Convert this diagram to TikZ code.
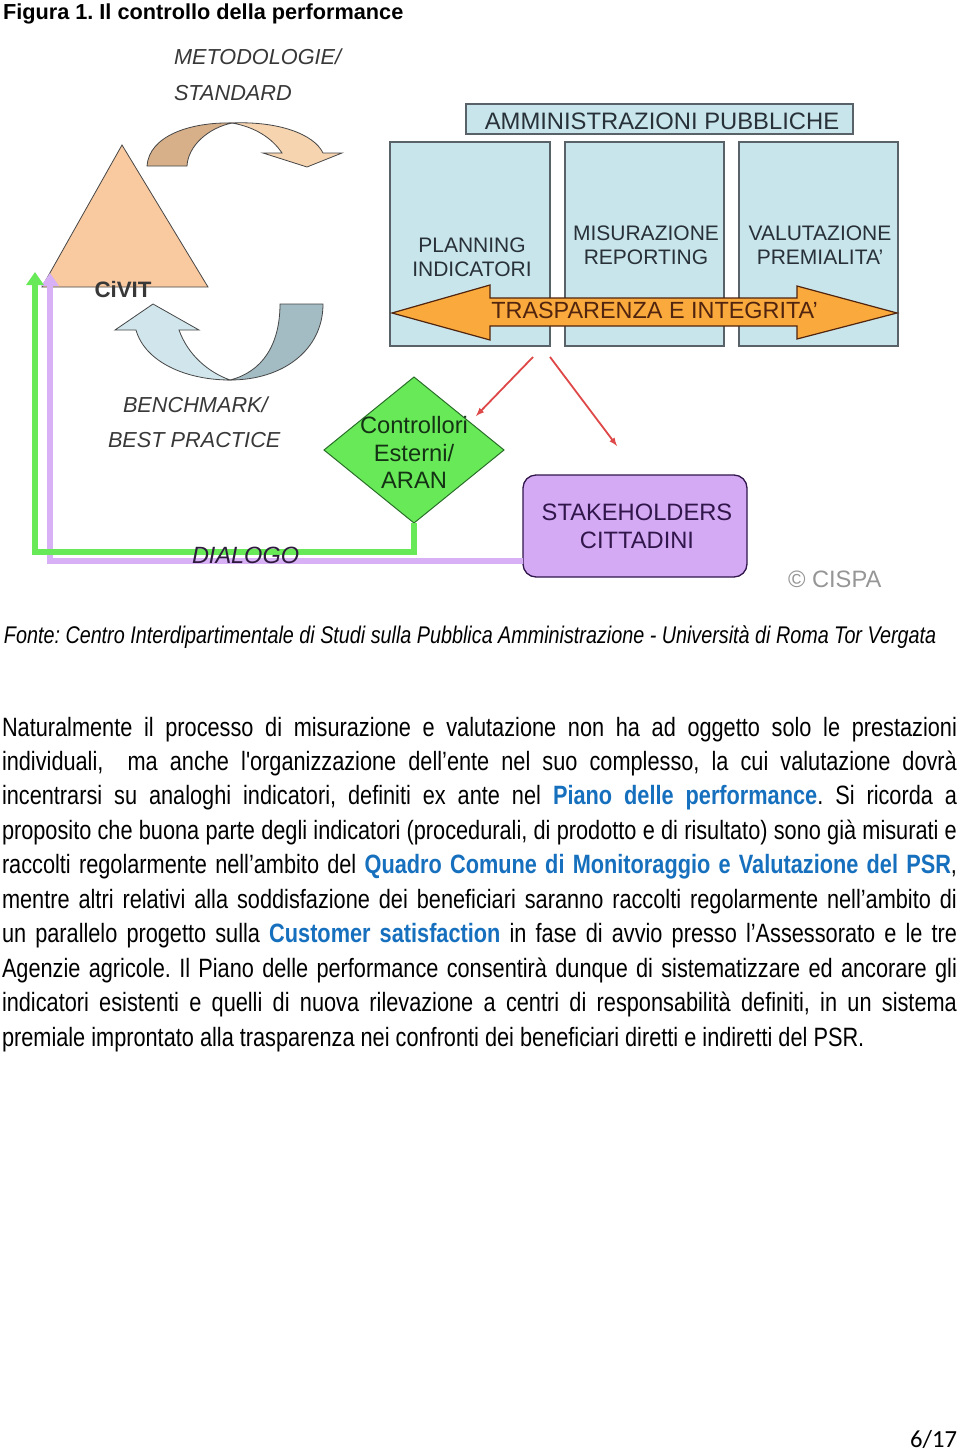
\documentclass[tikz,border=0pt]{standalone}
\usepackage{fontspec}
\setmainfont{Liberation Sans}
\newfontfamily\narrowfont[FakeStretch=0.82]{Liberation Sans}
\newfontfamily\calibrifont{Carlito}
\usetikzlibrary{shapes.geometric,arrows.meta}
\frenchspacing

\newcommand{\lnk}[1]{{\bfseries\color{ci_link}#1}}

\begin{document}
\begin{tikzpicture}[x=1pt,y=-1pt,
  every node/.style={inner sep=0pt,outer sep=0pt},
  panel/.style={draw=ci_edge,line width=1.3pt,fill=ci_panel},
  shape3d/.style={draw=ci_outline,line width=0.8pt},
  boxtext/.style={anchor=base,font=\fontsize{21}{24}\selectfont,text=ci_dark},
  bigtext/.style={anchor=base,font=\fontsize{23.7}{27}\selectfont},
  itlabel/.style={anchor=base west,font=\fontsize{21.7}{26}\selectfont\itshape,text=ci_text},
  bodyline/.style={anchor=base west,font=\narrowfont\fontsize{26.5}{34.45}\selectfont},
  greenlink/.style={draw=ci_green,line width=6pt,-{Triangle[width=17pt,length=13pt]}},
  lilaclink/.style={draw=ci_lilac,line width=6pt,-{Triangle[width=17pt,length=13pt]}},
  redlink/.style={draw=ci_red,line width=1.8pt,-latex}]
\definecolor{ci_peach}{RGB}{249,201,160}     %#F9C9A0
\definecolor{ci_tandark}{RGB}{215,176,138}   %#D7B08A
\definecolor{ci_tanlight}{RGB}{246,212,176}  %#F6D4B0
\definecolor{ci_bluelight}{RGB}{208,230,236} %#D0E6EC
\definecolor{ci_bluegray}{RGB}{163,187,195}  %#A3BBC3
\definecolor{ci_outline}{RGB}{70,70,70}
\definecolor{ci_panel}{RGB}{200,229,236}     %#C8E5EC
\definecolor{ci_edge}{RGB}{88,98,104}
\definecolor{ci_dark}{RGB}{40,48,56}
\definecolor{ci_orange}{RGB}{250,170,60}     %#FAAA3C
\definecolor{ci_brown}{RGB}{80,36,14}
\definecolor{ci_green}{RGB}{104,234,88}      %#68EA58
\definecolor{ci_darkgreen}{RGB}{40,110,40}
\definecolor{ci_greentext}{RGB}{20,50,20}
\definecolor{ci_lilac}{RGB}{215,176,245}     %#D7B0F5
\definecolor{ci_lilacbox}{RGB}{212,170,245}  %#D4AAF5
\definecolor{ci_plum}{RGB}{48,22,74}
\definecolor{ci_plumtext}{RGB}{45,25,60}
\definecolor{ci_red}{RGB}{222,72,72}
\definecolor{ci_link}{RGB}{22,112,190}       %#1670BE
\definecolor{ci_text}{RGB}{56,56,56}
\definecolor{ci_gray}{RGB}{150,150,150}

\useasboundingbox (0,0) rectangle (960,1451);
\fill [white] (0,0) rectangle (960,1451);

\node [anchor=base west,font=\fontsize{21.7}{26}\selectfont\bfseries] (title) at (3,19) {Figura 1. Il controllo della performance};

% CiVIT and the two curved arrows
\filldraw [fill=ci_peach,shape3d] (122,145) -- (42,287) -- (208,287) -- cycle;
\filldraw [fill=ci_tandark,shape3d] (147,166) .. controls (149,136) and (190,122) .. (232,123)
  .. controls (208,128) and (188,146) .. (187,166) -- cycle;
\filldraw [fill=ci_tanlight,shape3d] (232,123) .. controls (278,121) and (314,134) .. (323,153)
  -- (342,153) -- (307,167) -- (263,153) -- (282,153)
  .. controls (272,138) and (255,127) .. (232,123) -- cycle;
\filldraw [fill=ci_bluegray,shape3d] (280,304) -- (323,304) .. controls (323,350) and (283,380) .. (230,380)
  .. controls (262,372) and (280,345) .. (280,304) -- cycle;
\filldraw [fill=ci_bluelight,shape3d] (230,380) .. controls (186,380) and (145,362) .. (136,330)
  -- (115,330) -- (153,304) -- (199,330) -- (179,330)
  .. controls (188,355) and (208,372) .. (230,380) -- cycle;

\node [itlabel] (metod) at (174,64) {METODOLOGIE/};
\node [itlabel] (stand) at (174,100) {STANDARD};
\node [itlabel] (bench) at (123,412) {BENCHMARK/};
\node [itlabel] (bestp) at (108,447) {BEST PRACTICE};

% amministrazioni
\node [panel,minimum width=387pt,minimum height=30pt] (amm) at (659.5,119) {};
\node [anchor=base,font=\fontsize{23.8}{27}\selectfont,text=ci_dark] (ammtext) at (662,129) {AMMINISTRAZIONI PUBBLICHE};
\node [panel,minimum width=160pt,minimum height=204pt] (col1) at (470,244) {};
\node [panel,minimum width=159pt,minimum height=204pt] (col2) at (644.5,244) {};
\node [panel,minimum width=159pt,minimum height=204pt] (col3) at (818.5,244) {};
\node [boxtext] (plan) at (472,252) {PLANNING};
\node [boxtext] (indic) at (472,276) {INDICATORI};
\node [boxtext] (misur) at (646,240) {MISURAZIONE};
\node [boxtext] (report) at (646,264) {REPORTING};
\node [boxtext] (valut) at (820,240) {VALUTAZIONE};
\node [boxtext] (premi) at (820,264) {PREMIALITA'};

\filldraw [fill=ci_orange,draw=ci_brown,line width=1.2pt]
  (392,313) -- (490,285) -- (490,298) -- (797,298) -- (797,286) -- (897,313)
  -- (797,339) -- (797,326) -- (490,326) -- (490,340) -- cycle;
\node [anchor=base,font=\fontsize{23.4}{27}\selectfont,text=ci_brown] (trasp) at (654.5,318) {TRASPARENZA E INTEGRITA'};

% controllori, stakeholders
\node [diamond,draw=ci_darkgreen,line width=1pt,fill=ci_green,minimum width=180pt,minimum height=146pt] (aran) at (414,450) {};
\node [rounded corners=13pt,draw=ci_plum,line width=1.3pt,fill=ci_lilacbox,minimum width=224pt,minimum height=102pt] (stake) at (635,526) {};

\coordinate (redA) at (533,357);
\coordinate (redB) at (550,357);
\coordinate (redAend) at (476,416);
\coordinate (redBend) at (617,446);
\draw [redlink] (redA) -- (redAend);
\draw [redlink] (redB) -- (redBend);

\coordinate (civitA) at (35,272);
\coordinate (civitB) at (50,273);
\coordinate (gcorner) at (35,552);
\coordinate (stkin) at (523,561);
\draw [lilaclink] (stkin) -| (civitB);
\draw [greenlink] (aran.south) |- (gcorner) -- (civitA);

\node [anchor=base,font=\fontsize{22.3}{26}\selectfont\bfseries,text=ci_text] (civit) at (123,297) {CiVIT};
\node [itlabel,font=\fontsize{23.5}{27}\selectfont\itshape,text=ci_plumtext] (dialogo) at (192,563) {DIALOGO};
\node [bigtext,text=ci_greentext] (ctrl) at (414,433) {Controllori};
\node [bigtext,text=ci_greentext] (est) at (414,461) {Esterni/};
\node [bigtext,text=ci_greentext] (arantext) at (414,488) {ARAN};
\node [bigtext,text=ci_plum] (stk1) at (637,520) {STAKEHOLDERS};
\node [bigtext,text=ci_plum] (stk2) at (637,548) {CITTADINI};
\node [anchor=base west,font=\fontsize{23.7}{27}\selectfont,text=ci_gray] (cispa) at (788,587) {\textcopyright{} CISPA};

% testo
\node [anchor=base west,font=\narrowfont\fontsize{24.1}{28}\selectfont\itshape] (fonte) at (4,643) {Fonte: Centro Interdipartimentale di Studi sulla Pubblica Amministrazione - Università di Roma Tor Vergata};

\node [bodyline] (l1) at (2,736) {\makebox[955pt][s]{Naturalmente il processo di misurazione e valutazione non ha ad oggetto solo le prestazioni}};
\node [bodyline] (l2) at (2,770.45) {\makebox[955pt][s]{individuali,\ \ ma anche l'organizzazione dell’ente nel suo complesso, la cui valutazione dovrà}};
\node [bodyline] (l3) at (2,804.9) {\makebox[955pt][s]{incentrarsi su analoghi indicatori, definiti ex ante nel \lnk{Piano delle performance}. Si ricorda a}};
\node [bodyline] (l4) at (2,839.35) {\makebox[955pt][s]{proposito che buona parte degli indicatori (procedurali, di prodotto e di risultato) sono già misurati e}};
\node [bodyline] (l5) at (2,873.8) {\makebox[955pt][s]{raccolti regolarmente nell’ambito del \lnk{Quadro Comune di Monitoraggio e Valutazione del PSR},}};
\node [bodyline] (l6) at (2,908.25) {\makebox[955pt][s]{mentre altri relativi alla soddisfazione dei beneficiari saranno raccolti regolarmente nell’ambito di}};
\node [bodyline] (l7) at (2,942.7) {\makebox[955pt][s]{un parallelo progetto sulla \lnk{Customer satisfaction} in fase di avvio presso l’Assessorato e le tre}};
\node [bodyline] (l8) at (2,977.15) {\makebox[955pt][s]{Agenzie agricole. Il Piano delle performance consentirà dunque di sistematizzare ed ancorare gli}};
\node [bodyline] (l9) at (2,1011.6) {\makebox[955pt][s]{indicatori esistenti e quelli di nuova rilevazione a centri di responsabilità definiti, in un sistema}};
\node [bodyline] (l10) at (2,1046.05) {premiale improntato alla trasparenza nei confronti dei beneficiari diretti e indiretti del PSR.};

\node [anchor=base east,font=\calibrifont\fontsize{24.6}{28}\selectfont] (pagenum) at (957,1447) {6/17};
\end{tikzpicture}
\end{document}
